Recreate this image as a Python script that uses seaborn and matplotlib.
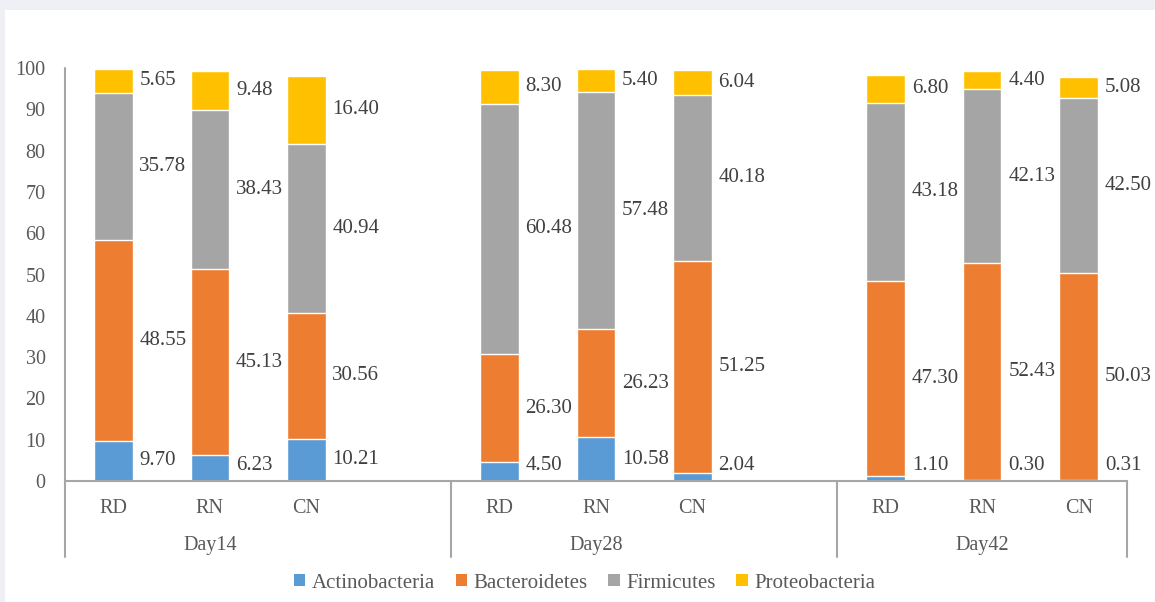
import numpy as np
import pandas as pd
import matplotlib
matplotlib.use("Agg")
import matplotlib.pyplot as plt
from matplotlib.patches import Patch, Rectangle
import seaborn as sns

# data (relative abundance, %)
days = ["Day14", "Day28", "Day42"]
groups = ["RD", "RN", "CN"]
phyla = ["Actinobacteria", "Bacteroidetes", "Firmicutes", "Proteobacteria"]

actinobacteria = [9.70, 6.23, 10.21, 4.50, 10.58, 2.04, 1.10, 0.30, 0.31]
bacteroidetes = [48.55, 45.13, 30.56, 26.30, 26.23, 51.25, 47.30, 52.43, 50.03]
firmicutes = [35.78, 38.43, 40.94, 60.48, 57.48, 40.18, 43.18, 42.13, 42.50]
proteobacteria = [5.65, 9.48, 16.40, 8.30, 5.40, 6.04, 6.80, 4.40, 5.08]

colors = ["#5B9BD5", "#ED7D31", "#A5A5A5", "#FFC000"]

sns.set_style("white")
plt.rcParams["font.family"] = ["Liberation Serif", "DejaVu Serif"]

# slot keys: Excel leaves an empty slot between day groups
slots = []
for d_i, day in enumerate(days):
    for g in groups:
        slots.append(f"{day}-{g}")
    if d_i < len(days) - 1:
        slots.append(f"gap{d_i}")
bar_keys = [f"{d}-{g}" for d in days for g in groups]

df = pd.DataFrame({
    "key": bar_keys,
    "Actinobacteria": actinobacteria,
    "Bacteroidetes": bacteroidetes,
    "Firmicutes": firmicutes,
    "Proteobacteria": proteobacteria,
})
cum = df[phyla].cumsum(axis=1)

fig = plt.figure(figsize=(11.55, 6.02), dpi=100)
fig.patch.set_facecolor("#EFF0F6")
fig.patches.append(Rectangle((5 / 1155, 0), 1, 1 - 10 / 602, transform=fig.transFigure,
                             facecolor="white", edgecolor="none", zorder=-10))
ax = fig.add_axes([65 / 1155, 1 - 481 / 602, (1127 - 65) / 1155, (481 - 68) / 602])
ax.set_facecolor("none")

# stacked bars: draw cumulative totals from the top layer down
for p, c in reversed(list(zip(phyla, colors))):
    sns.barplot(x=df["key"], y=cum[p], order=slots, color=c, width=0.4,
                saturation=1, ax=ax, zorder=2)

# value labels beside each segment (kept inside the plot area near the axis)
for k in bar_keys:
    xi = slots.index(k)
    row = df[df["key"] == k].iloc[0]
    bottom = 0
    for p in phyla:
        v = row[p]
        ax.text(xi + 0.27, max(bottom + v / 2, 3.8), f"{v:.2f}", ha="left",
                va="center", fontsize=15, color="#404040")
        bottom += v

ax.set_xlim(-0.5, len(slots) - 0.5)
ax.set_ylim(0, 100)
ax.set_yticks(range(0, 101, 10))
ax.set_xticks([slots.index(k) for k in bar_keys])
ax.set_xticklabels([k.split("-")[1] for k in bar_keys])
ax.tick_params(axis="both", length=0, labelsize=14.5, colors="#595959")
ax.tick_params(axis="x", pad=13)
ax.tick_params(axis="y", pad=14)
ax.set_xlabel("")
ax.set_ylabel("")

for s in ["top", "right", "left"]:
    ax.spines[s].set_visible(False)
ax.spines["bottom"].set_color("#A6A6A6")
ax.spines["bottom"].set_linewidth(1.5)

# group separators and left axis line
line_kw = dict(color="#A6A6A6", lw=1.5, clip_on=False, zorder=1)
ax.plot([-0.5, -0.5], [-18.4, 100], **line_kw)
for xs in [3.5, 7.5, 10.5]:
    ax.plot([xs, xs], [-18.4, 0], **line_kw)

for d_i, day in enumerate(days):
    centre = np.mean([slots.index(f"{day}-{g}") for g in groups])
    ax.text(centre, -15.5, day, ha="center", va="center", fontsize=14.5,
            color="#595959", clip_on=False)

handles = [Patch(facecolor=c, edgecolor="none", label=p) for p, c in zip(phyla, colors)]
fig.legend(handles=handles, loc="center", bbox_to_anchor=(0.506, 1 - 583 / 602),
           ncol=4, frameon=False, fontsize=15, handlelength=0.55, handleheight=0.55,
           handletextpad=0.3, columnspacing=1.0, labelcolor="#595959")

fig.savefig("out.png", dpi=100, facecolor=fig.get_facecolor())
